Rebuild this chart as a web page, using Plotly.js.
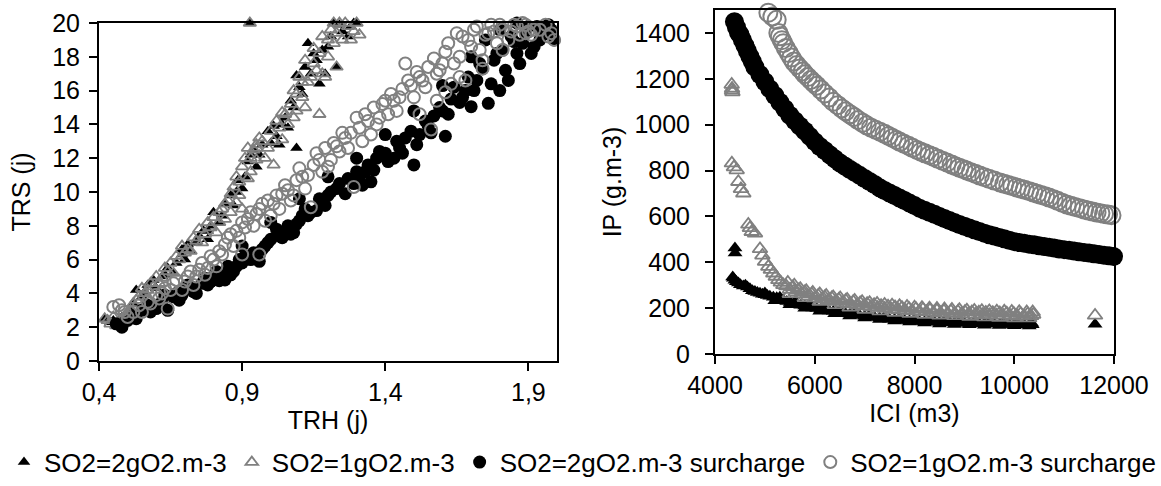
<!DOCTYPE html>
<html>
<head>
<meta charset="utf-8">
<script src="https://cdn.plot.ly/plotly-3.0.1.min.js"></script>
<style>html,body{margin:0;padding:0;background:#fff}#chart{width:1161px;height:486px}</style>
</head>
<body>
<div id="chart"></div>
<script>
// ---------- names ----------
const seriesNames = ["SO2=2gO2.m-3", "SO2=1gO2.m-3", "SO2=2gO2.m-3 surcharge", "SO2=1gO2.m-3 surcharge"];

// ---------- left chart: TRH (j) vs TRS (j), [TRH, TRS] ----------
const left2g = [[0.42,2.5],[0.44,2.3],[0.46,2.1],[0.48,2.6],[0.50,2.9],[0.52,3.4],[0.53,4.2],[0.55,3.8],[0.57,4.5],[0.60,4.3],[0.62,5.0],[0.64,5.5],[0.66,5.2],[0.69,6.6],[0.70,6.0],[0.72,6.5],[0.74,7.0],[0.765,7.7],[0.78,7.2],[0.80,8.8],[0.82,8.2],[0.84,9.3],[0.86,9.8],[0.885,10.7],[0.90,10.2],[0.92,11.8],[0.94,12.5],[0.96,12.2],[0.99,13.6],[1.00,12.9],[1.02,13.3],[1.04,14.0],[1.06,13.8],[1.07,15.4],[1.09,12.6],[1.09,16.9],[1.10,16.2],[1.12,17.4],[1.13,18.8],[1.15,18.2],[1.17,16.4],[1.19,17.0],[1.20,18.6],[1.23,17.4],[1.22,20.0],[1.25,19.5],[1.28,19.8],[1.30,20.0],[0.927,20.0],
  [0.45,2.4],[0.51,3.1],[0.56,4.1],[0.59,4.8],[0.63,5.1],[0.67,5.8],[0.71,6.9],[0.75,7.4],[0.79,8.0],[0.83,8.6],[0.87,9.2],[0.88,10.0],[0.91,10.9],[0.93,12.2],[0.95,11.5],[0.97,12.8],[1.01,13.9],[1.03,12.8],[1.05,14.4],[1.08,15.0],[1.11,15.8],[1.14,17.0],[1.16,17.8],[1.18,18.4],[1.21,19.2],[1.24,19.9],[1.27,19.2],[1.29,20.0],[0.78,7.7],[0.69,6.3]];
const left1g = [[0.42,2.5],[0.43,2.4],[0.45,2.6],[0.46,2.1],[0.47,2.2],[0.49,2.3],[0.50,2.9],[0.51,3.0],[0.52,3.4],[0.53,3.6],[0.55,4.3],[0.56,4.0],[0.58,4.6],[0.60,5.0],[0.61,4.6],[0.63,5.5],[0.65,5.8],[0.66,5.2],[0.67,6.2],[0.69,6.8],[0.71,6.6],[0.72,6.5],[0.73,7.3],[0.75,7.8],[0.76,7.0],[0.78,8.2],[0.80,8.5],[0.81,7.6],[0.82,8.2],[0.83,9.0],[0.84,9.3],[0.85,9.5],[0.86,8.8],[0.87,10.3],[0.88,10.9],[0.89,9.8],[0.90,11.5],[0.91,12.0],[0.92,12.6],[0.93,11.2],[0.94,12.5],[0.95,12.8],[0.97,13.0],[0.98,12.0],[1.00,13.6],[1.01,11.6],[1.02,14.2],[1.04,13.1],[1.05,14.6],[1.07,15.2],[1.08,16.0],[1.09,14.8],[1.10,16.8],[1.11,15.6],[1.12,17.8],[1.13,16.5],[1.15,18.5],[1.16,17.2],[1.17,14.6],[1.18,19.2],[1.19,16.8],[1.20,18.0],[1.21,19.6],[1.22,18.8],[1.24,20.0],[1.25,19.0],[1.27,19.8],[1.29,19.5],[1.30,20.0],[1.31,19.3],[0.927,20.0],[1.23,17.4],[1.22,20.0],
  [0.44,2.2],[0.48,2.5],[0.54,3.8],[0.57,4.2],[0.59,4.4],[0.62,4.9],[0.64,5.3],[0.68,6.0],[0.70,6.4],[0.74,7.1],[0.77,7.5],[0.79,7.9],[0.82,8.8],[0.84,8.4],[0.86,9.9],[0.88,9.4],[0.89,10.6],[0.90,9.0],[0.92,10.8],[0.93,12.0],[0.95,11.9],[0.96,13.2],[0.99,12.6],[1.01,13.0],[1.03,13.8],[1.04,14.7],[1.06,14.0],[1.08,14.4],[1.09,15.8],[1.11,16.5],[1.12,15.0],[1.14,16.8],[1.15,17.6],[1.17,18.2],[1.18,17.0],[1.20,19.0],[1.23,19.4],[1.26,20.0],[1.28,19.0],[0.95,12.6]];
const left2gSur = [[0.46,2.2],[0.48,2.0],[0.50,2.4],[0.52,2.7],[0.55,3.0],[0.57,3.3],[0.60,3.1],[0.62,3.5],[0.64,3.0],[0.66,3.8],[0.68,3.6],[0.70,4.2],[0.72,4.4],[0.74,4.0],[0.76,4.6],[0.78,4.5],[0.80,5.0],[0.82,4.75],[0.84,4.8],[0.86,5.1],[0.88,5.6],[0.90,5.8],[0.93,6.0],[0.96,5.9],[0.98,6.8],[1.00,7.2],[1.03,7.4],[1.05,7.5],[1.07,7.5],[1.09,8.1],[1.11,8.6],[1.13,8.6],[1.16,8.9],[1.18,9.3],[1.20,9.8],[1.23,10.2],[1.26,9.9],[1.29,10.5],[1.31,10.9],[1.33,11.2],[1.35,10.6],[1.37,12.0],[1.40,12.3],[1.43,12.0],[1.45,12.6],[1.47,13.2],[1.50,11.6],[1.52,13.4],[1.55,13.9],[1.57,14.5],[1.60,14.8],[1.61,13.3],[1.63,15.5],[1.66,15.3],[1.68,16.0],[1.70,15.05],[1.72,16.6],[1.74,17.3],[1.76,15.25],[1.78,17.8],[1.80,16.0],[1.81,18.4],[1.83,16.6],[1.85,18.9],[1.87,17.6],[1.89,19.4],[1.91,18.2],[1.93,19.8],[1.95,19.3],[1.97,19.9],[1.99,19.0],[0.90,6.8],[1.00,8.2],[1.10,9.6],[1.20,10.9],[1.30,12.0],[1.40,13.4],[1.50,14.8],[1.60,16.3],[1.70,18.0],[1.75,19.0],[1.80,19.6],[1.86,20.0],[1.93,20.1],
  [0.53,2.5],[0.58,2.9],[0.61,3.3],[0.63,3.9],[0.67,4.0],[0.69,3.9],[0.71,4.5],[0.73,4.1],[0.77,4.9],[0.79,4.7],[0.81,5.3],[0.83,5.0],[0.85,5.6],[0.87,5.3],[0.89,6.0],[0.91,6.2],[0.94,6.4],[0.97,6.6],[0.99,7.0],[1.02,7.8],[1.04,7.3],[1.06,8.0],[1.08,7.6],[1.10,8.3],[1.12,9.0],[1.14,8.8],[1.17,9.6],[1.19,9.2],[1.21,10.0],[1.24,10.5],[1.27,10.8],[1.30,11.2],[1.32,10.4],[1.34,11.6],[1.36,11.3],[1.38,12.4],[1.41,11.8],[1.44,13.0],[1.46,12.3],[1.49,13.6],[1.51,12.8],[1.54,14.2],[1.56,13.5],[1.59,15.0],[1.62,14.6],[1.64,16.2],[1.67,15.6],[1.69,16.8],[1.71,16.0],[1.73,17.6],[1.77,16.4],[1.79,18.2],[1.82,17.2],[1.84,19.2],[1.86,18.2],[1.88,18.8],[1.90,19.8],[1.92,18.6],[1.94,19.0],[1.96,19.4],[1.98,19.6]];
const left1gSur = [[0.45,3.2],[0.47,3.3],[0.49,2.9],[0.52,2.9],[0.54,3.3],[0.57,3.5],[0.60,3.9],[0.64,3.1],[0.63,4.3],[0.66,4.6],[0.69,4.2],[0.71,5.0],[0.73,4.5],[0.75,5.4],[0.78,5.5],[0.80,6.0],[0.82,6.5],[0.83,6.3],[0.85,7.3],[0.86,7.5],[0.88,7.7],[0.90,6.3],[0.90,8.2],[0.91,7.9],[0.93,8.8],[0.95,8.7],[0.96,6.3],[0.97,9.3],[0.99,9.5],[1.00,8.6],[1.02,9.8],[1.04,9.9],[1.05,10.4],[1.07,9.5],[1.09,10.7],[1.10,11.4],[1.12,10.2],[1.14,9.1],[1.15,11.6],[1.16,12.3],[1.18,11.2],[1.20,11.5],[1.22,12.9],[1.24,12.4],[1.26,13.2],[1.29,10.3],[1.28,13.5],[1.30,14.4],[1.32,13.0],[1.34,14.2],[1.36,15.0],[1.38,14.4],[1.40,15.4],[1.42,15.8],[1.44,14.8],[1.46,16.1],[1.47,17.6],[1.48,16.6],[1.50,15.6],[1.52,16.8],[1.54,16.2],[1.56,13.7],[1.57,17.9],[1.59,17.2],[1.61,18.3],[1.63,16.4],[1.65,19.4],[1.66,18.0],[1.68,16.6],[1.69,19.0],[1.71,19.6],[1.73,18.4],[1.74,17.8],[1.76,19.4],[1.77,19.9],[1.79,18.8],[1.81,19.6],[1.83,19.0],[1.85,19.9],[1.87,19.3],[1.88,20.0],[1.90,19.5],[1.92,19.6],[1.93,20.2],[1.95,20.1],[1.97,19.2],[1.99,19.0],[1.89,19.4],[1.81,18.4],[1.74,17.3],
  [0.48,3.0],[0.50,2.6],[0.55,2.9],[0.58,3.4],[0.61,3.7],[0.62,4.0],[0.65,4.2],[0.67,4.8],[0.70,4.7],[0.72,5.3],[0.74,5.0],[0.76,5.8],[0.77,5.1],[0.79,6.2],[0.81,5.6],[0.84,6.9],[0.87,6.8],[0.89,7.3],[0.92,8.4],[0.94,8.0],[0.96,9.0],[0.98,8.3],[1.01,9.3],[1.03,9.0],[1.06,10.1],[1.08,9.8],[1.11,10.9],[1.13,11.0],[1.17,11.9],[1.19,12.6],[1.21,11.9],[1.23,12.7],[1.25,13.5],[1.27,12.6],[1.31,13.8],[1.33,14.6],[1.35,13.4],[1.37,14.0],[1.39,15.2],[1.41,14.6],[1.43,15.4],[1.45,15.6],[1.49,16.3],[1.51,17.1],[1.53,16.6],[1.55,17.4],[1.58,17.0],[1.60,17.6],[1.62,18.8],[1.64,17.6],[1.67,19.2],[1.70,18.6],[1.72,19.8],[1.75,19.3],[1.78,19.5],[1.80,19.9],[1.84,19.5],[1.86,19.8],[1.89,19.9],[1.91,19.3],[1.94,19.6],[1.96,19.9],[1.98,19.4],[1.66,16.8],[1.58,15.4],[1.52,14.6],[1.61,15.9]];

// ---------- right chart: ICI (m3) vs IP (g.m-3), [ICI, IP] ----------
const right2g = [[4400,462],[4402,440],[4355,336],[4370,330],[4400,322],[4430,315],[4470,310],[4510,302],[4568,296],[4610,300],[4650,292],[4700,284],[4750,276],[4800,272],[4850,268],[4902,265],[4950,261],[5000,258],[5050,255],[5100,252],[5170,248],[5237,245],[5300,241],[5370,236],[5440,229],[5510,225],[5580,221],[5650,217],[5720,213],[5800,209],[5880,205],[5960,201],[6040,198],[6120,195],[6200,192],[6290,188],[6372,185],[6460,182],[6540,179],[6620,176],[6707,174],[6800,171],[6900,168],[7000,165],[7100,162],[7200,159],[7300,157],[7400,155],[7500,152],[7600,150],[7709,148],[7800,146],[7900,145],[8000,143],[8100,142],[8200,141],[8300,140],[8400,139],[8500,138],[8600,137],[8711,136],[8800,135],[8900,135],[9000,134],[9100,133],[9200,133],[9300,132],[9400,132],[9500,131],[9600,131],[9714,130],[9800,130],[9900,129],[10000,129],[10100,128],[10200,128],[10300,127],[10360,127],[11620,130],
  [5000,266],[5300,248],[5600,226],[5900,210],[6200,198],[6500,188],[6800,178],[7100,170],[7400,162],[7700,156],[8000,151],[8300,147],[8600,144],[8900,142],[9200,140],[9500,138],[9800,137],[10100,136],[10350,134],
  [5200,232],[5500,215],[5800,200],[6100,186],[6400,176],[6700,166],[7000,157],[7300,150],[7600,144],[7900,139],[8200,135],[8500,131],[8800,129],[9100,127],[9400,125],[9700,124],[10000,123],[10300,122]];
const right1g = [[4335,1175],[4342,1158],[4350,1142],[4340,1150],[4338,832],[4380,815],[4435,802],[4468,751],[4520,720],[4568,701],[4668,565],[4700,550],[4736,533],[4802,526],[4902,458],[4950,430],[5003,403],[5069,381],[5120,368],[5169,352],[5220,338],[5270,323],[5320,312],[5370,301],[5430,296],[5500,281],[5560,292],[5620,270],[5680,279],[5740,262],[5800,271],[5870,252],[5940,262],[6000,244],[6070,255],[6140,238],[6200,249],[6270,233],[6340,244],[6410,228],[6480,238],[6550,222],[6620,233],[6700,218],[6770,228],[6840,213],[6910,223],[6980,209],[7050,219],[7120,205],[7190,215],[7260,202],[7330,211],[7400,198],[7470,208],[7540,195],[7610,205],[7680,192],[7750,202],[7820,189],[7890,199],[7960,187],[8030,197],[8100,185],[8170,195],[8240,183],[8310,192],[8380,181],[8450,190],[8520,179],[8590,188],[8660,177],[8730,187],[8800,176],[8870,185],[8940,174],[9010,184],[9080,173],[9150,183],[9220,172],[9290,182],[9360,171],[9430,181],[9500,170],[9570,180],[9640,169],[9710,179],[9780,168],[9850,178],[9920,167],[9990,177],[10060,166],[10130,176],[10200,165],[10270,175],[10340,166],[10380,172],[11620,168],
  [5460,312],[5590,300],[5710,285],[5830,276],[5960,268],[6100,262],[6230,255],[6370,249],[6510,244],[6650,238],[6800,233],[6950,228],[7100,224],[7250,220],[7400,216],[7550,213],[7700,210],[7850,207],[8000,204],[8150,202],[8300,200],[8450,198],[8600,196],[8750,194],[8900,193],[9050,191],[9200,190],[9350,189],[9500,188],[9650,187],[9800,186],[9950,185],[10100,184],[10250,183],[10370,183],
  [5500,262],[5800,245],[6100,228],[6400,214],[6700,203],[7000,194],[7300,187],[7600,181],[7900,176],[8200,172],[8500,169],[8800,166],[9100,163],[9400,161],[9700,159],[10000,157],[10300,156]];
const right2gSur = [[4390,1449],[4430,1425],[4470,1402],[4500,1393],[4550,1369],[4600,1345],[4650,1321],[4700,1297],[4750,1274],[4800,1251],[4900,1219],[5000,1187],[5100,1156],[5200,1127],[5300,1098],[5400,1069],[5500,1041],[5600,1017],[5700,994],[5800,972],[5900,949],[6000,926],[6100,905],[6200,887],[6300,869],[6400,851],[6500,834],[6600,820],[6700,806],[6800,792],[6900,779],[7000,765],[7100,752],[7200,739],[7300,725],[7400,713],[7500,702],[7600,691],[7700,680],[7800,669],[7900,658],[8000,647],[8100,636],[8200,627],[8300,618],[8400,609],[8500,600],[8600,591],[8700,582],[8800,573],[8900,565],[9000,557],[9100,549],[9200,542],[9300,534],[9400,527],[9500,520],[9600,514],[9700,508],[9800,502],[9900,496],[10000,490],[10100,486],[10200,483],[10300,479],[10400,476],[10500,472],[10600,469],[10700,465],[10800,462],[10900,458],[11000,455],[11100,452],[11200,449],[11300,446],[11400,443],[11500,440],[11600,437],[11700,434],[11800,431],[11900,428],[11990,425]];
const right1gSur = [[5070,1488],[5150,1472],[5237,1457],[5270,1400],[5300,1385],[5340,1368],[5370,1355],[5420,1334],[5480,1312],[5530,1293],[5580,1275],[5640,1260],[5700,1245],[5760,1232],[5800,1220],[5860,1208],[5920,1195],[5980,1182],[6040,1170],[6120,1153],[6200,1136],[6290,1118],[6372,1100],[6460,1085],[6540,1071],[6620,1058],[6707,1045],[6790,1033],[6870,1020],[6960,1008],[7041,997],[7130,987],[7220,978],[7310,969],[7400,960],[7480,951],[7560,942],[7640,933],[7709,925],[7790,917],[7880,908],[7960,899],[8050,890],[8130,882],[8210,875],[8300,867],[8377,860],[8470,851],[8560,843],[8650,835],[8746,826],[8820,819],[8900,812],[8980,806],[9046,800],[9130,793],[9220,786],[9310,778],[9400,771],[9492,764],[9600,756],[9714,748],[9800,742],[9880,737],[9960,732],[10050,726],[10130,721],[10210,716],[10300,710],[10382,704],[10460,699],[10540,693],[10620,688],[10700,682],[10790,675],[10870,668],[10960,660],[11051,652],[11140,646],[11220,641],[11310,636],[11400,630],[11480,626],[11570,621],[11650,617],[11728,614],[11800,611],[11880,608],[11950,605],[12010,602]];

// ---------- tick labels ----------
const leftXTickVals = [0.4, 0.9, 1.4, 1.9];
const leftXTickText = ["0,4", "0,9", "1,4", "1,9"];
const leftYTickVals = [0, 2, 4, 6, 8, 10, 12, 14, 16, 18, 20];
const rightXTickVals = [4000, 6000, 8000, 10000, 12000];
const rightXTickText = ["4000", "6000", "8000", "10000", "12000"];
const rightYTickVals = [0, 200, 400, 600, 800, 1000, 1200, 1400];
const rightYTickText = ["0", "200", "400", "600", "800", "1000", "1200", "1400"];

const BLACK = "#000000", GREY = "#808080";
const FONT = "Liberation Sans, Arial, sans-serif";
const xs = a => a.map(p => p[0]);
const ys = a => a.map(p => p[1]);

const styles = [
  {sym: "triangle-up", color: BLACK, line: 0},
  {sym: "triangle-up-open", color: GREY, line: 1.8},
  {sym: "circle", color: BLACK, line: 0},
  {sym: "circle-open", color: GREY, line: 2}
];
const leftData = [left2g, left1g, left2gSur, left1gSur];
const rightData = [right2g, right1g, right2gSur, right1gSur];
const leftSizes = [11, 11, 13, 12];
const rightSizes = [13, 13, 19, 18];

const traces = [];
leftData.forEach((d, i) => traces.push({
  type: "scatter", mode: "markers", name: seriesNames[i], legendgroup: "g" + i,
  x: xs(d), y: ys(d), xaxis: "x", yaxis: "y", cliponaxis: false,
  marker: {symbol: styles[i].sym, size: leftSizes[i], color: styles[i].color,
           line: {width: styles[i].line, color: styles[i].color}},
  hoverinfo: "x+y"
}));
rightData.forEach((d, i) => traces.push({
  type: "scatter", mode: "markers", name: seriesNames[i], legendgroup: "g" + i, showlegend: false,
  x: xs(d), y: ys(d), xaxis: "x2", yaxis: "y2", cliponaxis: false,
  marker: {symbol: styles[i].sym, size: rightSizes[i], color: styles[i].color,
           line: {width: styles[i].line, color: styles[i].color}},
  hoverinfo: "x+y"
}));

const axBase = {
  showline: true, linecolor: "#000", linewidth: 2, mirror: true,
  ticks: "outside", ticklen: 8, tickwidth: 2, tickcolor: "#000",
  showgrid: false, zeroline: false,
  tickfont: {family: FONT, size: 25, color: "#000"},
  fixedrange: true
};

const layout = {
  width: 1161, height: 486, autosize: false,
  margin: {l: 0, r: 0, t: 0, b: 0},
  paper_bgcolor: "#fff", plot_bgcolor: "#fff",
  font: {family: FONT, color: "#000"},
  showlegend: true,
  legend: {orientation: "h", x: 0.005, xanchor: "left", y: 0.049, yanchor: "middle",
           font: {family: FONT, size: 26, color: "#000"}, itemwidth: 30, bgcolor: "rgba(0,0,0,0)",
           itemclick: false, itemdoubleclick: false},
  xaxis: Object.assign({}, axBase, {domain: [99/1161, 557/1161], range: [0.4, 2.0],
          tickvals: leftXTickVals, ticktext: leftXTickText, anchor: "y",
          title: {text: "TRH (j)", font: {family: FONT, size: 25}, standoff: 5}}),
  yaxis: Object.assign({}, axBase, {domain: [(486-361)/486, (486-23)/486], range: [0, 20],
          tickvals: leftYTickVals, anchor: "x", ticklabelstandoff: 4,
          title: {text: "TRS (j)", font: {family: FONT, size: 25}, standoff: 14}}),
  xaxis2: Object.assign({}, axBase, {domain: [715/1161, 1114/1161], range: [4000, 12000],
          tickvals: rightXTickVals, ticktext: rightXTickText, anchor: "y2",
          title: {text: "ICI (m3)", font: {family: FONT, size: 25}, standoff: 5}}),
  yaxis2: Object.assign({}, axBase, {domain: [(486-354)/486, (486-10)/486], range: [0, 1500],
          tickvals: rightYTickVals, ticktext: rightYTickText, anchor: "x2", ticklabelstandoff: 10,
          title: {text: "IP (g.m-3)", font: {family: FONT, size: 25}, standoff: 6}})
};

Plotly.newPlot("chart", traces, layout, {displayModeBar: false, staticPlot: true});
</script>
</body>
</html>
